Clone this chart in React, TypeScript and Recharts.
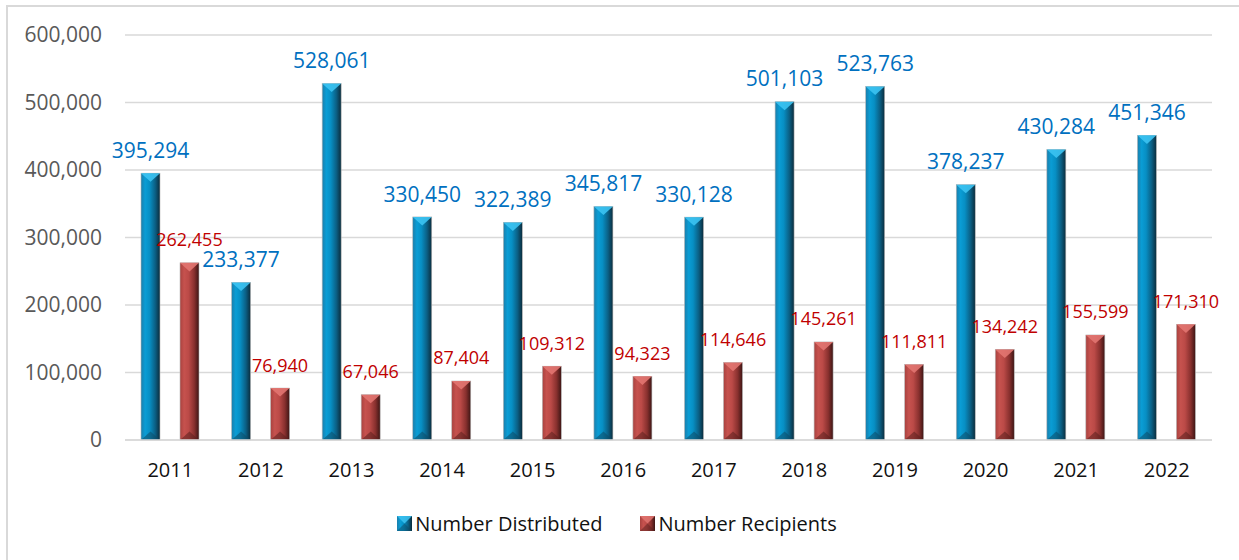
import { BarChart, Bar, XAxis, YAxis, CartesianGrid, Legend, LabelList } from "recharts";

const years = ["2011", "2012", "2013", "2014", "2015", "2016", "2017", "2018", "2019", "2020", "2021", "2022"];
const distributed = [395294, 233377, 528061, 330450, 322389, 345817, 330128, 501103, 523763, 378237, 430284, 451346];
const recipients = [262455, 76940, 67046, 87404, 109312, 94323, 114646, 145261, 111811, 134242, 155599, 171310];
const yTicks = [0, 100000, 200000, 300000, 400000, 500000, 600000];

const data = years.map((year, i) => ({
  year,
  distributed: distributed[i],
  recipients: recipients[i],
}));

const FONT = "'Open Sans', sans-serif";

const tones = {
  blue: { body: "url(#blueBody)", top: "#3cc3f2", bottom: "#0d4a66", label: "#0070c0" },
  red: { body: "url(#redBody)", top: "#e27571", bottom: "#5a1f1d", label: "#c00000" },
};

const BevelBar = (props: any) => {
  const { x, y, width, height, tone } = props;
  if (!height || height <= 0) return null;
  const t = tones[tone as "blue" | "red"];
  const bevel = Math.min(width * 0.45, height / 2);
  return (
    <g>
      <rect x={x} y={y} width={width} height={height} fill={t.body} stroke="#b8b8b8" strokeWidth={0.6} />
      <polygon points={`${x},${y} ${x + width},${y} ${x + width / 2},${y + bevel}`} fill={t.top} opacity={0.9} />
      <polygon
        points={`${x},${y + height} ${x + width},${y + height} ${x + width / 2},${y + height - bevel}`}
        fill={t.bottom}
        opacity={0.55}
      />
    </g>
  );
};

const makeLabel = (color: string, size: number, gap: number) => (props: any) => {
  const { x, y, width, value } = props;
  return (
    <text
      x={x + width / 2}
      y={y - gap + size * 0.36}
      fill={color}
      fontSize={size}
      fontFamily={FONT}
      textAnchor="middle"
    >
      {Number(value).toLocaleString("en-US")}
    </text>
  );
};

const LegendSwatch = ({ tone }: { tone: "blue" | "red" }) => {
  const t = tones[tone];
  return (
    <svg width={15} height={15} style={{ marginRight: 3 }}>
      <rect x={0} y={0} width={15} height={15} fill={t.body} />
      <polygon points="0,0 15,0 7.5,7.5" fill={t.top} opacity={0.85} />
      <polygon points="0,15 15,15 7.5,7.5" fill={t.bottom} opacity={0.5} />
    </svg>
  );
};

const renderLegend = () => (
  <div
    style={{
      height: 30,
      display: "flex",
      justifyContent: "center",
      alignItems: "center",
      gap: 38,
      fontFamily: FONT,
      fontSize: 20,
      color: "#111",
      paddingLeft: 22,
    }}
  >
    <span style={{ display: "flex", alignItems: "center" }}>
      <LegendSwatch tone="blue" />
      Number Distributed
    </span>
    <span style={{ display: "flex", alignItems: "center" }}>
      <LegendSwatch tone="red" />
      Number Recipients
    </span>
  </div>
);

const App = () => {
  return (
    <div style={{ position: "absolute", left: 0, top: 0, width: 1239, height: 560, overflow: "hidden", background: "#fff" }}>
      <div
        style={{
          position: "absolute",
          left: 6,
          top: 5,
          width: 1300,
          height: 600,
          border: "2px solid #d9d9d9",
        }}
      />
      <BarChart
        width={1239}
        height={560}
        data={data}
        margin={{ top: 35, right: 27, left: 0, bottom: 22 }}
        barSize={19}
        barGap={20}
        style={{ position: "absolute", left: 0, top: 0 }}
      >
        <defs>
          <linearGradient id="blueBody" x1="0" y1="0" x2="1" y2="0">
            <stop offset="0%" stopColor="#1b7eab" />
            <stop offset="22%" stopColor="#0a9dd5" />
            <stop offset="45%" stopColor="#078fc4" />
            <stop offset="75%" stopColor="#0b5f84" />
            <stop offset="100%" stopColor="#0b2c3c" />
          </linearGradient>
          <linearGradient id="redBody" x1="0" y1="0" x2="1" y2="0">
            <stop offset="0%" stopColor="#a8423f" />
            <stop offset="22%" stopColor="#c6524e" />
            <stop offset="45%" stopColor="#bb4a47" />
            <stop offset="75%" stopColor="#88302e" />
            <stop offset="100%" stopColor="#3c1514" />
          </linearGradient>
        </defs>
        <CartesianGrid vertical={false} stroke="#d9d9d9" strokeWidth={1.5} />
        <XAxis
          dataKey="year"
          height={68}
          tickLine={false}
          tickSize={0}
          tickMargin={23}
          axisLine={{ stroke: "#d9d9d9", strokeWidth: 1.5 }}
          tick={{ fill: "#111", fontSize: 20, fontFamily: FONT }}
        />
        <YAxis
          width={125}
          domain={[0, 600000]}
          ticks={yTicks}
          interval={0}
          tickLine={false}
          tickSize={0}
          tickMargin={23}
          axisLine={false}
          tick={{ fill: "#595959", fontSize: 21, fontFamily: FONT }}
          tickFormatter={(v) => Number(v).toLocaleString("en-US")}
        />
        <Legend verticalAlign="bottom" content={renderLegend} />
        <Bar
          dataKey="distributed"
          name="Number Distributed"
          isAnimationActive={false}
          shape={(p: any) => <BevelBar {...p} tone="blue" />}
        >
          <LabelList dataKey="distributed" content={makeLabel(tones.blue.label, 21, 23)} />
        </Bar>
        <Bar
          dataKey="recipients"
          name="Number Recipients"
          isAnimationActive={false}
          shape={(p: any) => <BevelBar {...p} tone="red" />}
        >
          <LabelList dataKey="recipients" content={makeLabel(tones.red.label, 18, 23)} />
        </Bar>
      </BarChart>
    </div>
  );
};

export default App;
